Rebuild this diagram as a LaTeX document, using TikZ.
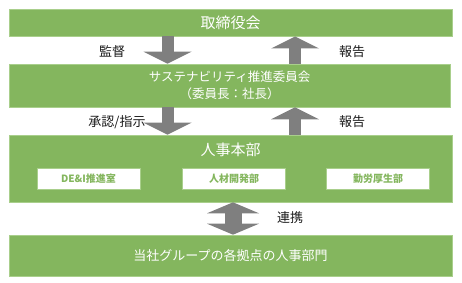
\documentclass[tikz,border=0pt]{standalone}
\usepackage{fontspec}
\setmainfont{Noto Sans CJK JP}
\usepackage{xcolor}
\definecolor{boxGreen}{HTML}{84B65E}
\definecolor{edgeGreen}{HTML}{A9CF8C}
\definecolor{arrowGray}{HTML}{7F7F7F}
\definecolor{darkText}{HTML}{1A1A1A}
\usetikzlibrary{arrows.meta, positioning, calc}
\tikzset{
    % Green organisation band
    orgbox/.style={
        rectangle,
        fill=boxGreen,
        draw=edgeGreen,
        line width=0.6pt,
        text=white,
        align=center,
        inner sep=0pt,
    },
    % White unit box inside the HR band
    unitbox/.style={
        rectangle,
        fill=white,
        draw=edgeGreen,
        line width=0.4pt,
        text=boxGreen,
        font=\fontsize{10}{12}\selectfont\bfseries,
        minimum width=103pt,
        minimum height=21pt,
        inner sep=0pt,
    },
    % Thick gray block arrow
    blockarrow/.style={
        draw=arrowGray,
        line width=12pt,
        -{Triangle[width=48pt, length=12pt, line width=0pt]},
    },
    % Two-headed block arrow
    blockarrow both/.style={
        draw=arrowGray,
        line width=17pt,
        {Triangle[width=52pt, length=11pt, line width=0pt]}-{Triangle[width=52pt, length=11pt, line width=0pt]},
    },
    % Black labels beside the arrows
    flow label/.style={
        text=darkText,
        font=\fontsize{13}{15}\selectfont,
        inner sep=0pt,
    },
}
\begin{document}
\begin{tikzpicture}[x=1pt, y=-1pt]
    \useasboundingbox (0,0) rectangle (462,283);

    \node (board) [orgbox, minimum width=443pt, minimum height=27pt,
        font=\fontsize{15}{17}\selectfont] at (230.6,22.7) {取締役会};
    \node (committee) [orgbox, minimum width=441pt, minimum height=43pt,
        font=\fontsize{12.5}{16.5}\selectfont] at (229.7,85.5)
        {サステナビリティ推進委員会\\（委員長：社長）};
    \node (hr) [orgbox, minimum width=443pt, minimum height=67pt] at (230.6,168.5) {};
    \node (hrtitle) [text=white, inner sep=0pt, font=\fontsize{15}{17}\selectfont]
        at ([yshift=-15.5pt]hr.north) {人事本部};
    \node (dei) [unitbox] at (88.5,178.5) {DE\&I推進室};
    \node (talent) [unitbox] at (234,178.5) {人材開発部};
    \node (welfare) [unitbox] at (378,178.5) {勤労厚生部};
    \node (sites) [orgbox, minimum width=443pt, minimum height=41pt,
        font=\fontsize{13}{15}\selectfont] at (230.6,255.5) {当社グループの各拠点の人事部門};

    \coordinate (downx) at (167.5,0);
    \coordinate (upx) at (295,0);
    \coordinate (linkx) at (233,0);

    \draw [blockarrow] (board.south -| downx) -- (committee.north -| downx);
    \draw [blockarrow] (committee.north -| upx) -- (board.south -| upx);
    \draw [blockarrow] (committee.south -| downx) -- (hr.north -| downx);
    \draw [blockarrow] (hr.north -| upx) -- (committee.south -| upx);
    \draw [blockarrow both] (hr.south -| linkx) -- (sites.north -| linkx);

    \node (supervise) [flow label] at (112,52) {監督};
    \node (report1) [flow label] at (352,52) {報告};
    \node (approve) [flow label] at (117,122) {承認/指示};
    \node (report2) [flow label] at (352,122) {報告};
    \node (liaise) [flow label] at (290,218) {連携};
\end{tikzpicture}
\end{document}
